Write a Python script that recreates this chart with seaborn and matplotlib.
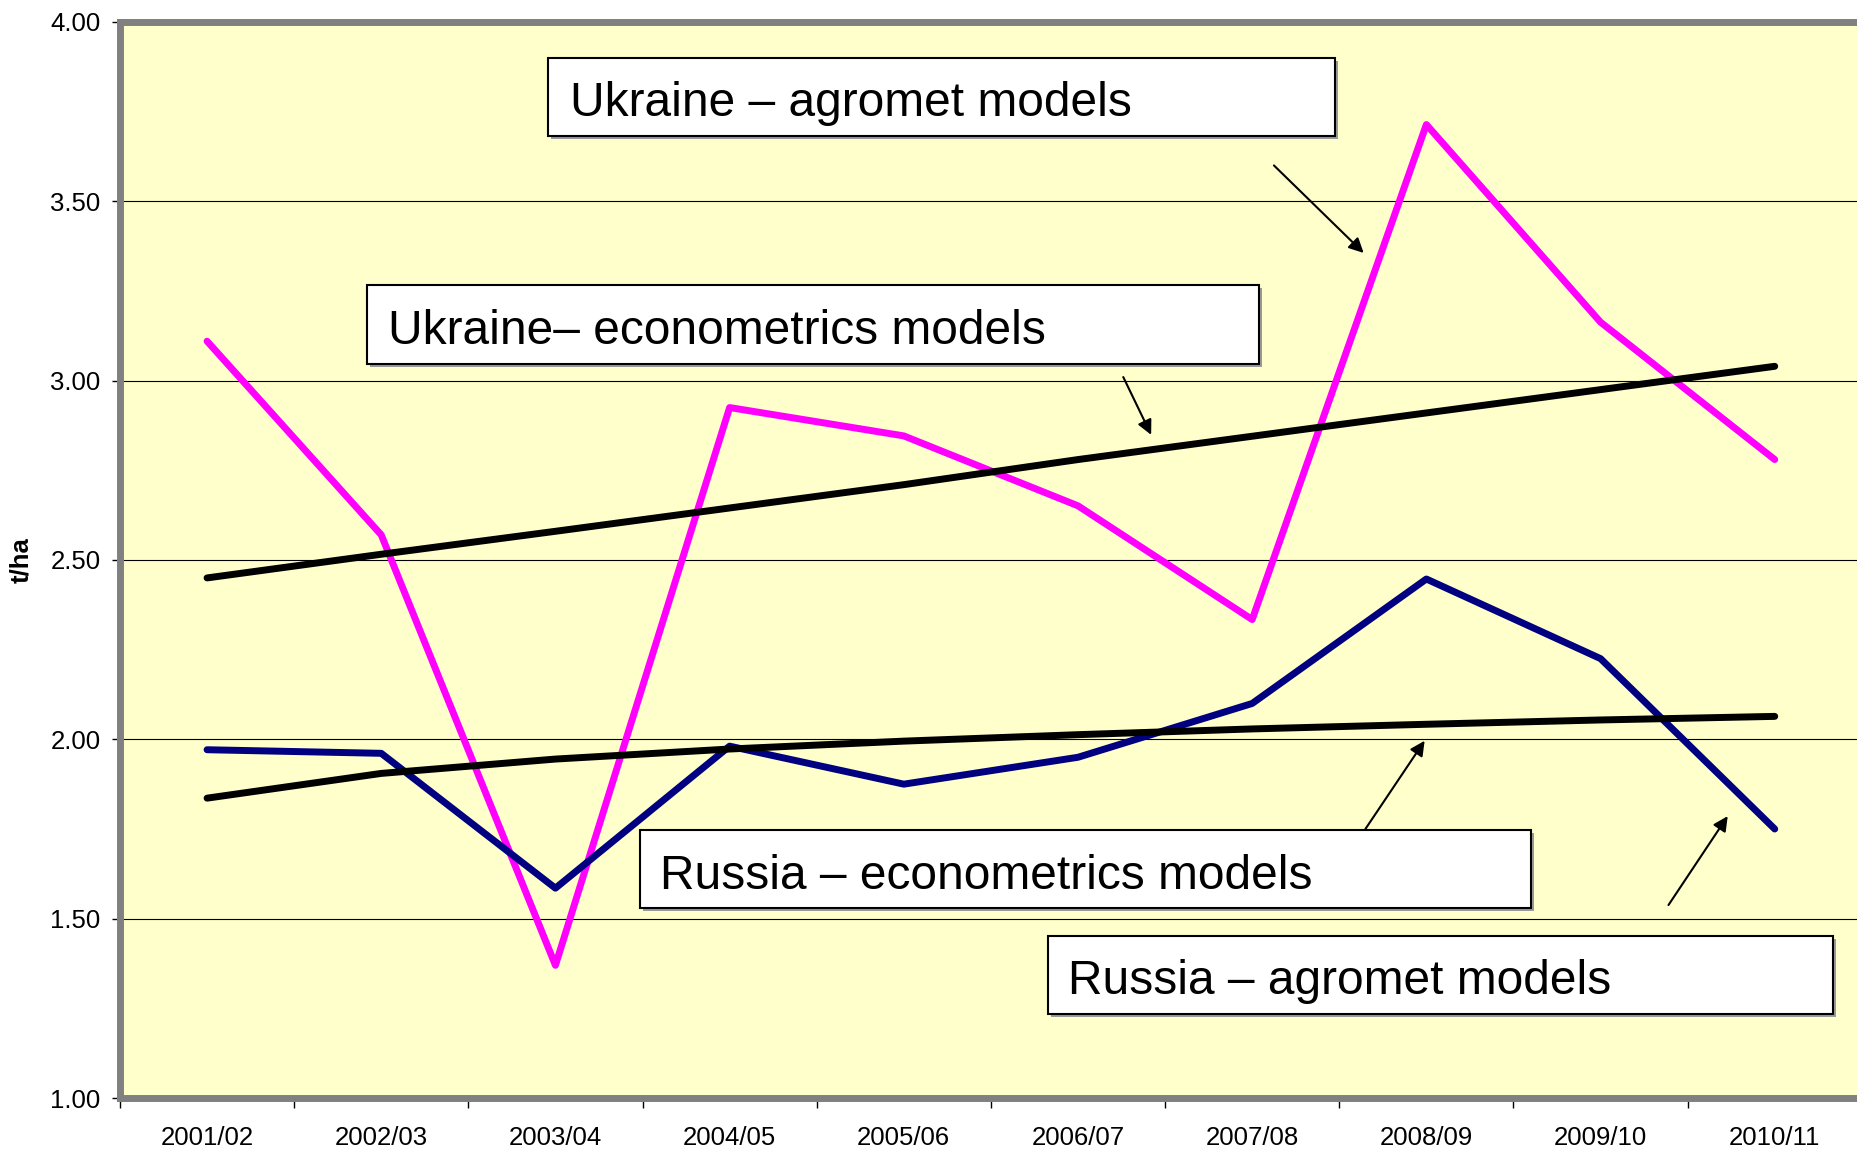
import matplotlib
matplotlib.use("Agg")
import matplotlib.pyplot as plt
from matplotlib.patches import Rectangle
from matplotlib.ticker import FixedLocator, NullFormatter, FixedFormatter
import seaborn as sns
import pandas as pd

plt.rcParams['font.family'] = ['Liberation Sans', 'DejaVu Sans']

seasons = ["2001/02", "2002/03", "2003/04", "2004/05", "2005/06",
           "2006/07", "2007/08", "2008/09", "2009/10", "2010/11"]
ukraine_agromet = [3.11, 2.57, 1.37, 2.925, 2.846, 2.651, 2.334, 3.714, 3.163, 2.78]
russia_agromet = [1.971, 1.961, 1.585, 1.981, 1.875, 1.95, 2.10, 2.447, 2.225, 1.75]
ukraine_econ = [2.45, 2.516, 2.58, 2.645, 2.71, 2.78, 2.845, 2.91, 2.975, 3.04]
russia_econ = [1.836, 1.905, 1.945, 1.973, 1.995, 2.013, 2.029, 2.042, 2.054, 2.064]
y_ticks = [1.0, 1.5, 2.0, 2.5, 3.0, 3.5, 4.0]

series = {
    "Ukraine agromet": ukraine_agromet,
    "Russia agromet": russia_agromet,
    "Ukraine econometrics": ukraine_econ,
    "Russia econometrics": russia_econ,
}
rows = []
for name, vals in series.items():
    for i, v in enumerate(vals):
        rows.append({"series": name, "idx": i, "value": v})
df = pd.DataFrame(rows)
palette = {"Ukraine agromet": "#FF00FF", "Russia agromet": "#000080",
           "Ukraine econometrics": "#000000", "Russia econometrics": "#000000"}

fig = plt.figure(figsize=(18.57, 11.5), dpi=100)
ax = fig.add_axes([0.0646, 0.0452, 0.938, 0.9357])
ax.set_facecolor("#FFFFCC")

for name in series:
    sub = df[df["series"] == name]
    sns.lineplot(data=sub, x="idx", y="value", color=palette[name], ax=ax,
                 linewidth=5, legend=False, solid_capstyle="round",
                 solid_joinstyle="round", zorder=3)

ax.set_xlim(-0.5, len(seasons) - 0.5)
ax.set_ylim(1.0, 4.0)

# x axis: ticks at category boundaries, labels centred
ax.xaxis.set_major_locator(FixedLocator([i - 0.5 for i in range(len(seasons) + 1)]))
ax.xaxis.set_major_formatter(NullFormatter())
ax.xaxis.set_minor_locator(FixedLocator(list(range(len(seasons)))))
ax.xaxis.set_minor_formatter(FixedFormatter(seasons))
ax.tick_params(axis="x", which="major", direction="out", length=7, width=1, color="black")
ax.tick_params(axis="x", which="minor", length=0, pad=20, labelsize=18.5)

ax.set_yticks(y_ticks)
ax.set_yticklabels([f"{t:.2f}" for t in y_ticks])
ax.tick_params(axis="y", direction="out", length=6, width=1, color="black",
               labelsize=18.5, pad=8)

ax.set_xlabel("")
ax.set_ylabel("t/ha", fontsize=18.5, fontweight="bold", va="center")
ax.yaxis.set_label_coords(-0.0568, 0.5)

ax.grid(axis="y", color="black", linewidth=0.8, zorder=1)
ax.grid(axis="x", visible=False)
ax.set_axisbelow(True)

for side in ["left", "top", "bottom"]:
    ax.spines[side].set_color("#808080")
    ax.spines[side].set_linewidth(5)
ax.spines["right"].set_visible(False)

# annotation boxes
boxes = [
    ("Ukraine – agromet models", 0.2457, 0.894, 0.6975, 0.9665, 0.2583, 0.9245),
    ("Ukraine– econometrics models", 0.1418, 0.6822, 0.6538, 0.7556, 0.1541, 0.7122),
    ("Russia – econometrics models", 0.2985, 0.1762, 0.810, 0.2488, 0.3098, 0.2059),
    ("Russia – agromet models", 0.5328, 0.0783, 0.9836, 0.1508, 0.5444, 0.1079),
]
dx, dy = 0.0018, 0.0028
for text, x0, y0, x1, y1, tx, ty in boxes:
    ax.add_patch(Rectangle((x0 + dx, y0 - dy), x1 - x0, y1 - y0, transform=ax.transAxes,
                           facecolor="#9a9a9a", edgecolor="none", zorder=4))
    ax.add_patch(Rectangle((x0, y0), x1 - x0, y1 - y0, transform=ax.transAxes,
                           facecolor="white", edgecolor="black", linewidth=1.5, zorder=5))
    ax.text(tx, ty, text, transform=ax.transAxes, fontsize=34.5, va="center",
            ha="left", color="black", zorder=6)

arrows = [
    ((6.125, 3.60), (6.64, 3.356)),
    ((5.26, 3.01), (5.42, 2.849)),
    ((6.65, 1.75), (6.99, 1.996)),
    ((8.39, 1.538), (8.73, 1.786)),
]
for start, end in arrows:
    ax.annotate("", xy=end, xytext=start, xycoords="data", textcoords="data",
                arrowprops=dict(arrowstyle="-|>", color="black", lw=1.5,
                                mutation_scale=22, shrinkA=0, shrinkB=0),
                zorder=6)

fig.savefig("out.png", dpi=100, facecolor="white")
